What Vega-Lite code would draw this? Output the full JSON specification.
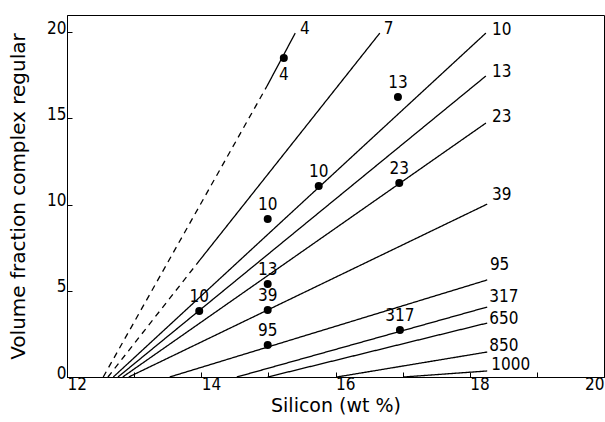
{
  "$schema": "https://vega.github.io/schema/vega-lite/v6.json",
  "width": 537,
  "height": 362,
  "autosize": {"type": "none"},
  "padding": {"left": 67, "top": 15, "right": 1, "bottom": 45},
  "background": "white",
  "config": {
    "view": {"stroke": "black", "strokeWidth": 1},
    "axis": {
      "grid": false,
      "domainColor": "black",
      "tickColor": "black",
      "labelColor": "black",
      "titleColor": "black",
      "labelFont": "DejaVu Sans Condensed, DejaVu Sans, sans-serif",
      "labelFontSize": 17,
      "titleFont": "DejaVu Sans",
      "titleFontWeight": "normal"
    }
  },
  "datasets": {
    "lines": [
      {"id": "4a", "s": "dashed", "x": 12.54, "y": 0},
      {"id": "4a", "s": "dashed", "x": 14.98, "y": 16.88},
      {"id": "4b", "s": "solid", "x": 14.98, "y": 16.88},
      {"id": "4b", "s": "solid", "x": 15.40, "y": 19.95},
      {"id": "7a", "s": "dashed", "x": 12.61, "y": 0},
      {"id": "7a", "s": "dashed", "x": 13.98, "y": 6.79},
      {"id": "7b", "s": "solid", "x": 13.98, "y": 6.79},
      {"id": "7b", "s": "solid", "x": 16.66, "y": 19.95},
      {"id": "10", "s": "solid", "x": 12.69, "y": 0},
      {"id": "10", "s": "solid", "x": 18.24, "y": 19.95},
      {"id": "13", "s": "solid", "x": 12.76, "y": 0},
      {"id": "13", "s": "solid", "x": 18.24, "y": 17.46},
      {"id": "23", "s": "solid", "x": 12.83, "y": 0},
      {"id": "23", "s": "solid", "x": 18.24, "y": 14.73},
      {"id": "39", "s": "solid", "x": 12.92, "y": 0},
      {"id": "39", "s": "solid", "x": 18.26, "y": 10.03},
      {"id": "95", "s": "solid", "x": 13.53, "y": 0},
      {"id": "95", "s": "solid", "x": 18.26, "y": 5.63},
      {"id": "317", "s": "solid", "x": 14.53, "y": 0},
      {"id": "317", "s": "solid", "x": 18.26, "y": 4.06},
      {"id": "650", "s": "solid", "x": 14.99, "y": 0},
      {"id": "650", "s": "solid", "x": 18.26, "y": 3.13},
      {"id": "850", "s": "solid", "x": 16.02, "y": 0},
      {"id": "850", "s": "solid", "x": 18.26, "y": 1.45},
      {"id": "1000", "s": "solid", "x": 17.01, "y": 0},
      {"id": "1000", "s": "solid", "x": 18.26, "y": 0.35}
    ],
    "dots": [
      {"label": "4", "pos": "below", "x": 15.23, "y": 18.5},
      {"label": "10", "pos": "above", "x": 14.99, "y": 9.16},
      {"label": "13", "pos": "above", "x": 16.93, "y": 16.24},
      {"label": "10", "pos": "above", "x": 15.75, "y": 11.08},
      {"label": "23", "pos": "above", "x": 16.95, "y": 11.25},
      {"label": "13", "pos": "above", "x": 14.99, "y": 5.39},
      {"label": "10", "pos": "above", "x": 13.97, "y": 3.83},
      {"label": "39", "pos": "above", "x": 14.99, "y": 3.89},
      {"label": "95", "pos": "above", "x": 14.99, "y": 1.86},
      {"label": "317", "pos": "above", "x": 16.96, "y": 2.73}
    ],
    "lineLabels": [
      {"label": "4", "x": 15.47, "y": 20.19},
      {"label": "7", "x": 16.72, "y": 20.19},
      {"label": "10", "x": 18.33, "y": 20.13},
      {"label": "13", "x": 18.33, "y": 17.69},
      {"label": "23", "x": 18.33, "y": 15.08},
      {"label": "39", "x": 18.33, "y": 10.56},
      {"label": "95", "x": 18.3, "y": 6.5},
      {"label": "317", "x": 18.29, "y": 4.64},
      {"label": "650", "x": 18.29, "y": 3.36},
      {"label": "850", "x": 18.29, "y": 1.8},
      {"label": "1000", "x": 18.32, "y": 0.7}
    ]
  },
  "layer": [
    {
      "data": {"name": "lines"},
      "mark": {"type": "line", "color": "black", "strokeWidth": 1.3},
      "encoding": {
        "x": {
          "field": "x", "type": "quantitative",
          "scale": {"domain": [12, 20], "nice": false, "zero": false},
          "axis": {
            "values": [12, 13, 14, 15, 16, 17, 18, 19, 20],
            "format": "d",
            "labelExpr": "datum.value % 2 == 0 ? datum.label : ''",
            "labelAlign": {"condition": {"test": "datum.value == 20", "value": "right"}, "value": "left"},
            "tickSize": -5,
            "labelPadding": 4,
            "title": "Silicon (wt %)",
            "titleFontSize": 19,
            "titlePadding": 4
          }
        },
        "y": {
          "field": "y", "type": "quantitative",
          "scale": {"domain": [0, 21], "nice": false},
          "axis": {
            "values": [0, 5, 10, 15, 20],
            "format": "d",
            "tickSize": -5,
            "labelPadding": 6,
            "labelOffset": -4,
            "title": "Volume fraction complex regular",
            "titleFontSize": 20,
            "titlePadding": 18
          }
        },
        "detail": {"field": "id"},
        "strokeDash": {
          "field": "s", "type": "nominal",
          "scale": {"domain": ["solid", "dashed"], "range": [[1, 0], [6, 5]]},
          "legend": null
        }
      }
    },
    {
      "data": {"name": "dots"},
      "mark": {"type": "point", "filled": true, "color": "black", "size": 64, "opacity": 1},
      "encoding": {
        "x": {"field": "x", "type": "quantitative"},
        "y": {"field": "y", "type": "quantitative"}
      }
    },
    {
      "data": {"name": "dots"},
      "transform": [{"filter": "datum.pos == 'above'"}],
      "mark": {"type": "text", "font": "DejaVu Sans Condensed, DejaVu Sans, sans-serif", "fontSize": 17, "color": "black", "baseline": "middle", "align": "center", "dy": -14},
      "encoding": {
        "x": {"field": "x", "type": "quantitative"},
        "y": {"field": "y", "type": "quantitative"},
        "text": {"field": "label"}
      }
    },
    {
      "data": {"name": "dots"},
      "transform": [{"filter": "datum.pos == 'below'"}],
      "mark": {"type": "text", "font": "DejaVu Sans Condensed, DejaVu Sans, sans-serif", "fontSize": 17, "color": "black", "baseline": "middle", "align": "center", "dy": 17},
      "encoding": {
        "x": {"field": "x", "type": "quantitative"},
        "y": {"field": "y", "type": "quantitative"},
        "text": {"field": "label"}
      }
    },
    {
      "data": {"name": "lineLabels"},
      "mark": {"type": "text", "font": "DejaVu Sans Condensed, DejaVu Sans, sans-serif", "fontSize": 17, "color": "black", "baseline": "middle", "align": "left"},
      "encoding": {
        "x": {"field": "x", "type": "quantitative"},
        "y": {"field": "y", "type": "quantitative"},
        "text": {"field": "label"}
      }
    }
  ]
}
